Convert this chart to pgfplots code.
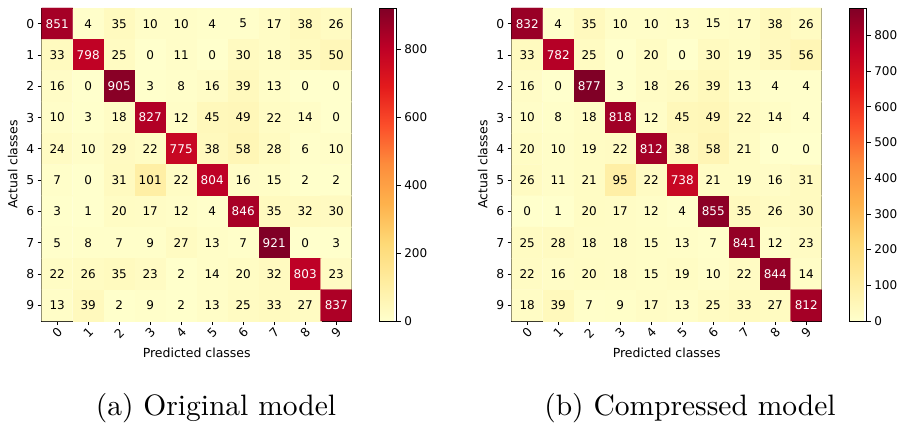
\documentclass[border=0pt]{standalone}
\usepackage{pgfplots}
\usepackage{pgfplotstable}
\pgfplotsset{compat=1.18}
\usepackage{fontspec}
\newfontfamily\dejavu{DejaVu Sans}

\pgfplotstableread[row sep=\\]{
x y c\\
0 0 851\\ 1 0 4\\ 2 0 35\\ 3 0 10\\ 4 0 10\\ 5 0 4\\ 6 0 5\\ 7 0 17\\ 8 0 38\\ 9 0 26\\
0 1 33\\ 1 1 798\\ 2 1 25\\ 3 1 0\\ 4 1 11\\ 5 1 0\\ 6 1 30\\ 7 1 18\\ 8 1 35\\ 9 1 50\\
0 2 16\\ 1 2 0\\ 2 2 905\\ 3 2 3\\ 4 2 8\\ 5 2 16\\ 6 2 39\\ 7 2 13\\ 8 2 0\\ 9 2 0\\
0 3 10\\ 1 3 3\\ 2 3 18\\ 3 3 827\\ 4 3 12\\ 5 3 45\\ 6 3 49\\ 7 3 22\\ 8 3 14\\ 9 3 0\\
0 4 24\\ 1 4 10\\ 2 4 29\\ 3 4 22\\ 4 4 775\\ 5 4 38\\ 6 4 58\\ 7 4 28\\ 8 4 6\\ 9 4 10\\
0 5 7\\ 1 5 0\\ 2 5 31\\ 3 5 101\\ 4 5 22\\ 5 5 804\\ 6 5 16\\ 7 5 15\\ 8 5 2\\ 9 5 2\\
0 6 3\\ 1 6 1\\ 2 6 20\\ 3 6 17\\ 4 6 12\\ 5 6 4\\ 6 6 846\\ 7 6 35\\ 8 6 32\\ 9 6 30\\
0 7 5\\ 1 7 8\\ 2 7 7\\ 3 7 9\\ 4 7 27\\ 5 7 13\\ 6 7 7\\ 7 7 921\\ 8 7 0\\ 9 7 3\\
0 8 22\\ 1 8 26\\ 2 8 35\\ 3 8 23\\ 4 8 2\\ 5 8 14\\ 6 8 20\\ 7 8 32\\ 8 8 803\\ 9 8 23\\
0 9 13\\ 1 9 39\\ 2 9 2\\ 3 9 9\\ 4 9 2\\ 5 9 13\\ 6 9 25\\ 7 9 33\\ 8 9 27\\ 9 9 837\\
}\matA

\pgfplotstableread[row sep=\\]{
x y c\\
0 0 832\\ 1 0 4\\ 2 0 35\\ 3 0 10\\ 4 0 10\\ 5 0 13\\ 6 0 15\\ 7 0 17\\ 8 0 38\\ 9 0 26\\
0 1 33\\ 1 1 782\\ 2 1 25\\ 3 1 0\\ 4 1 20\\ 5 1 0\\ 6 1 30\\ 7 1 19\\ 8 1 35\\ 9 1 56\\
0 2 16\\ 1 2 0\\ 2 2 877\\ 3 2 3\\ 4 2 18\\ 5 2 26\\ 6 2 39\\ 7 2 13\\ 8 2 4\\ 9 2 4\\
0 3 10\\ 1 3 8\\ 2 3 18\\ 3 3 818\\ 4 3 12\\ 5 3 45\\ 6 3 49\\ 7 3 22\\ 8 3 14\\ 9 3 4\\
0 4 20\\ 1 4 10\\ 2 4 19\\ 3 4 22\\ 4 4 812\\ 5 4 38\\ 6 4 58\\ 7 4 21\\ 8 4 0\\ 9 4 0\\
0 5 26\\ 1 5 11\\ 2 5 21\\ 3 5 95\\ 4 5 22\\ 5 5 738\\ 6 5 21\\ 7 5 19\\ 8 5 16\\ 9 5 31\\
0 6 0\\ 1 6 1\\ 2 6 20\\ 3 6 17\\ 4 6 12\\ 5 6 4\\ 6 6 855\\ 7 6 35\\ 8 6 26\\ 9 6 30\\
0 7 25\\ 1 7 28\\ 2 7 18\\ 3 7 18\\ 4 7 15\\ 5 7 13\\ 6 7 7\\ 7 7 841\\ 8 7 12\\ 9 7 23\\
0 8 22\\ 1 8 16\\ 2 8 20\\ 3 8 18\\ 4 8 15\\ 5 8 19\\ 6 8 10\\ 7 8 22\\ 8 8 844\\ 9 8 14\\
0 9 18\\ 1 9 39\\ 2 9 7\\ 3 9 9\\ 4 9 17\\ 5 9 13\\ 6 9 25\\ 7 9 33\\ 8 9 27\\ 9 9 812\\
}\matB

\pgfplotsset{
  colormap={ylorrd}{rgb255=(255,255,204) rgb255=(255,237,160) rgb255=(254,217,118)
    rgb255=(254,178,76) rgb255=(253,141,60) rgb255=(252,78,42) rgb255=(227,26,28)
    rgb255=(189,0,38) rgb255=(128,0,38)},
  cm/.style={
    scale only axis, width=310pt, height=313pt,
    xmin=-0.5, xmax=9.5, ymin=-0.5, ymax=9.5, y dir=reverse,
    enlargelimits=false,
    xtick={0,...,9}, ytick={0,...,9},
    tick align=outside, major tick length=4pt,
    xtick pos=bottom, ytick pos=left,
    tick style={black, line width=0.8pt},
    axis line style={black, line width=0.8pt},
    /pgf/number format/assume math mode=true,
    ticklabel style={font=\dejavu\fontsize{12.3}{14}\selectfont},
    xticklabel style={rotate=45, anchor=center},
    xticklabel shift=8pt,
    label style={font=\dejavu\fontsize{12.5}{14}\selectfont},
    xlabel={Predicted classes}, ylabel={Actual classes},
    xlabel style={at={([yshift=-32pt]axis description cs:0.5,0)}, anchor=center},
    ylabel style={at={([xshift=-29pt]axis description cs:0,0.5)}, anchor=center},
    colormap name=ylorrd, colorbar,
  },
  cbar/.style={
    colorbar style={
      scale only axis, width=17pt,
      at={(parent axis.north east)}, anchor=north west, xshift=19.5pt,
      ytick={#1}, ytick pos=right, yticklabel pos=right,
      tick align=outside, major tick length=4pt,
      tick style={black, line width=0.8pt},
      axis line style={black, line width=0.8pt},
      /pgf/number format/assume math mode=true,
      yticklabel style={font=\dejavu\fontsize{12}{14}\selectfont},
    }
  },
  celltext/.style={
    only marks, mark=none, point meta=explicit,
    nodes near coords,
    nodes near coords style={anchor=center, font=\dejavu\fontsize{12}{14}\selectfont, text=#1},
    unbounded coords=discard,
  },
}

\begin{document}
\begin{tikzpicture}
\useasboundingbox (0,0) rectangle (901pt,426pt);

\begin{axis}[cm, cbar={0,200,...,800}, at={(41.7pt,105pt)}, anchor=south west,
  point meta min=0, point meta max=921]
  \addplot[matrix plot*, mesh/cols=10, point meta=explicit] table[meta=c] {\matA};
  \addplot[celltext=black, y filter/.expression={\thisrow{c}>400 ? nan : y}] table[meta=c] {\matA};
  \addplot[celltext=white, y filter/.expression={\thisrow{c}>400 ? y : nan}] table[meta=c] {\matA};
\end{axis}

\begin{axis}[cm, cbar={0,100,...,800}, at={(511.7pt,105pt)}, anchor=south west,
  point meta min=0, point meta max=877]
  \addplot[matrix plot*, mesh/cols=10, point meta=explicit] table[meta=c] {\matB};
  \addplot[celltext=black, y filter/.expression={\thisrow{c}>400 ? nan : y}] table[meta=c] {\matB};
  \addplot[celltext=white, y filter/.expression={\thisrow{c}>400 ? y : nan}] table[meta=c] {\matB};
\end{axis}

\node[scale=2.95] at (216pt,18pt) {\fontsize{10}{12}\selectfont (a) Original model};
\node[scale=2.95] at (690pt,18pt) {\fontsize{10}{12}\selectfont (b) Compressed model};
\end{tikzpicture}
\end{document}
